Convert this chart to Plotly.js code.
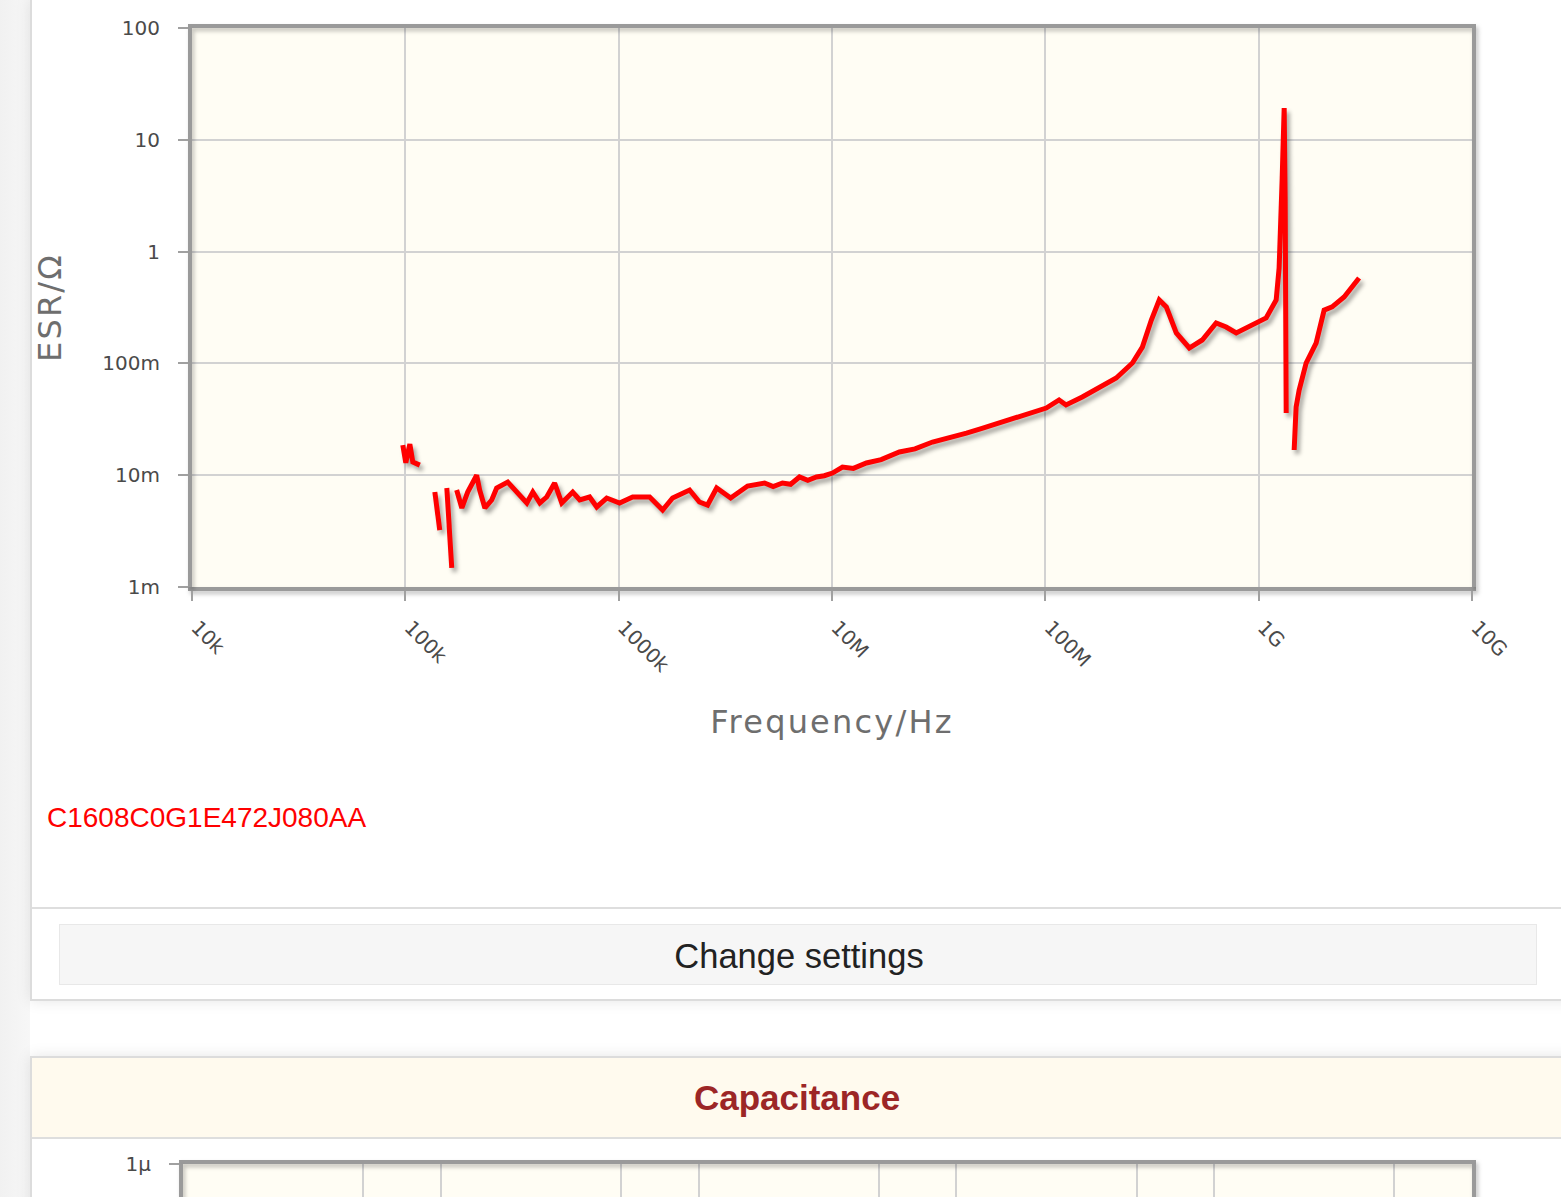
<!DOCTYPE html>
<html>
<head>
<meta charset="utf-8">
<script src="https://cdn.plot.ly/plotly-3.0.1.min.js"></script>
<style>
  html, body { margin:0; padding:0; background:#ffffff; width:1561px; height:1197px; overflow:hidden; font-family:"Liberation Sans", Arial, sans-serif; }
  .leftstrip { position:absolute; left:0; top:0; width:30px; height:1197px; background:linear-gradient(to right,#f1f1f1,#f7f7f7); }
  .card { position:absolute; left:30px; width:1570px; background:#fff; border:2px solid #dcdcdc; box-shadow:0 0 14px rgba(0,0,0,0.10); box-sizing:border-box; }
  #card1 { top:-2px; height:1003px; }
  #card2 { top:1056px; height:400px; }
  .sep { position:absolute; left:0; right:0; top:907px; height:2px; background:#dedede; }
  .btn { position:absolute; left:27px; top:924px; width:1478px; height:61px; background:#f6f6f6; border:1px solid #e8e8e8; box-sizing:border-box;
         font-size:34.5px; color:#222; line-height:62px; }
  .hdr { position:absolute; left:0; right:0; top:0; height:79px; background:#fffaee; border-bottom:2px solid #dedede;
         font-size:35px; font-weight:bold; color:#9c2626; line-height:80px; }
  .hdr span { position:absolute; left:0; width:1530px; text-align:center; }
  .btn span { position:absolute; left:0; width:1478px; text-align:center; }
  #chart { position:absolute; left:0; top:0; width:1561px; height:850px; }
  #chart2 { position:absolute; left:0; top:1136px; width:1561px; height:400px; }
  #chart g.scatterlayer { filter: drop-shadow(3px 4px 2px rgba(0,0,0,0.35)); }
  #chart path.xlines-above, #chart path.ylines-above, #chart2 path.xlines-above, #chart2 path.ylines-above { filter: drop-shadow(2px 3px 2px rgba(0,0,0,0.25)); }
  #chart .g-xtitle text, #chart .g-ytitle text { letter-spacing:2.2px; }
</style>
</head>
<body>
<div class="leftstrip"></div>
<div class="card" id="card1">
  <div class="sep"></div>
  <div class="btn"><span>Change settings</span></div>
</div>
<div class="card" id="card2">
  <div class="hdr"><span>Capacitance</span></div>
</div>
<div id="chart"></div>
<div id="chart2"></div>
<script>
// ---- data (frequency in Hz, ESR in ohm; null = gap) ----
const seriesName = "C1608C0G1E472J080AA";
const freqHz = [
  97.3e3, 100.5e3, 105e3, 108.4e3, 116.9e3, 127e3,
  137.5e3, 145e3, 151e3,
  156.5e3, 165e3, 170e3,
  174e3, 184e3, 196e3, 216e3, 223e3, 236e3, 254e3, 268e3, 302e3, 326e3,
  371e3, 396e3, 427e3, 460e3, 501e3, 541e3, 609e3, 657e3, 731e3, 789e3, 879e3,
  1.01e6, 1.163e6, 1.397e6, 1.607e6, 1.79e6, 2.15e6, 2.39e6, 2.61e6, 2.88e6, 3.35e6,
  4.02e6, 4.83e6, 5.3e6, 5.86e6, 6.4e6, 7.04e6, 7.7e6, 8.46e6, 9.2e6, 10.05e6, 11.2e6, 12.6e6, 14.5e6, 17.0e6, 20.7e6, 24.5e6, 29.6e6,
  35.0e6, 42.7e6, 50.5e6, 60.9e6, 72.0e6, 86.9e6, 101e6, 116e6, 125e6, 149e6, 179e6, 215e6, 256e6, 285e6,
  314e6, 342e6, 369e6, 411e6, 473e6, 544e6, 632e6, 704e6, 785e6, 903e6,
  1.084e9, 1.208e9, 1.247e9, 1.288e9, 1.317e9, 1.331e9, 1.346e9, 1.40e9,
  1.467e9, 1.498e9, 1.548e9, 1.669e9, 1.859e9, 2.027e9, 2.21e9, 2.515e9, 2.956e9
];
const esrOhm = [
  0.0186, 0.0129, 0.0190, 0.0131, 0.0123, null,
  0.00707, 0.00323, null,
  0.00768, 0.00148, null,
  0.00737, 0.00509, 0.00707, 0.0100, 0.00737, 0.00509, 0.0060, 0.00768, 0.00869, 0.00737,
  0.00564, 0.00707, 0.00564, 0.00638, 0.00852, 0.00564, 0.00707, 0.0060, 0.00638, 0.0052, 0.00625,
  0.00564, 0.00638, 0.00638, 0.00488, 0.00625, 0.00737, 0.00576, 0.00541, 0.00768, 0.00625,
  0.0080, 0.00852, 0.00790, 0.00852, 0.00830, 0.00964, 0.00900, 0.00964, 0.00990, 0.01046, 0.01184, 0.01150, 0.01286, 0.01380, 0.01612, 0.01720, 0.0198,
  0.0213, 0.0238, 0.0262, 0.0293, 0.0318, 0.0360, 0.0399, 0.0471, 0.0425, 0.0501, 0.0603, 0.0740, 0.1008, 0.140,
  0.2444, 0.369, 0.320, 0.187, 0.1373, 0.162, 0.230, 0.2117, 0.187, 0.2117,
  0.255, 0.369, 0.713, 4.37, 19.2, 2.89, 0.036, null,
  0.0168, 0.0407, 0.0578, 0.1008, 0.152, 0.300, 0.320, 0.393, 0.581
];
const xTickVals = [1e4, 1e5, 1e6, 1e7, 1e8, 1e9, 1e10];
const xTickText = ["10k", "100k", "1000k", "10M", "100M", "1G", "10G"];
const yTickVals = [1e-3, 1e-2, 1e-1, 1, 10, 100];
const yTickText = ["1m", "10m", "100m", "1", "10", "100"];
const xTitle = "Frequency/Hz";
const yTitle = "ESR/\u03A9";

// second (capacitance) chart, only its top edge is visible
const capXTickVals = [5e5, 1e6, 5e6, 1e7, 5e7, 1e8, 5e8, 1e9, 5e9];
const capYTickVals = [1e-6];
const capYTickText = ["1\u03BC"];

const tickFont = {family: "DejaVu Sans, Verdana, sans-serif", size: 20, color: "#4a4a4a"};
const titleFont = {family: "DejaVu Sans, Verdana, sans-serif", size: 32, color: "#6e6e6e"};

const trace = {
  x: freqHz, y: esrOhm, type: "scatter", mode: "lines", name: seriesName,
  connectgaps: false,
  line: {color: "#ff0000", width: 5}
};

const layout = {
  width: 1561, height: 850,
  margin: {l: 192, r: 89, t: 28, b: 263},
  paper_bgcolor: "rgba(0,0,0,0)",
  plot_bgcolor: "#fffdf4",
  showlegend: false,
  xaxis: {
    type: "log", range: [4, 10], tickvals: xTickVals, ticktext: xTickText,
    tickangle: 45, tickfont: tickFont, ticks: "outside", ticklen: 10, tickwidth: 2, tickcolor: "#a0a0a0",
    ticklabelstandoff: 7, ticklabelshift: 5,
    showgrid: true, gridcolor: "#d2d2d2", gridwidth: 2,
    showline: true, linecolor: "#9a9a9a", linewidth: 4, mirror: true, zeroline: false,
    automargin: false,
    title: {text: xTitle, font: titleFont, standoff: 36}
  },
  yaxis: {
    type: "log", range: [-3, 2], tickvals: yTickVals, ticktext: yTickText,
    tickfont: tickFont, ticks: "outside", ticklen: 10, tickwidth: 2, tickcolor: "#a0a0a0",
    ticklabelstandoff: 14,
    showgrid: true, gridcolor: "#d2d2d2", gridwidth: 2,
    showline: true, linecolor: "#9a9a9a", linewidth: 4, mirror: true, zeroline: false,
    automargin: false,
    title: {text: yTitle, font: titleFont, standoff: 32}
  },
  annotations: [{
    text: seriesName, xref: "paper", yref: "paper", x: -0.1148, y: -0.4130,
    xanchor: "left", yanchor: "middle", showarrow: false,
    font: {family: "Liberation Sans, Arial, sans-serif", size: 28, color: "#ff0000"}
  }]
};

Plotly.newPlot("chart", [trace], layout, {staticPlot: true, displayModeBar: false});

const layout2 = {
  width: 1561, height: 400,
  margin: {l: 183, r: 89, t: 28, b: 60},
  paper_bgcolor: "rgba(0,0,0,0)",
  plot_bgcolor: "#fffdf4",
  showlegend: false,
  xaxis: {
    type: "log", range: [5, 10], tickvals: capXTickVals, showticklabels: false,
    showgrid: true, gridcolor: "#d2d2d2", gridwidth: 2,
    showline: true, linecolor: "#9a9a9a", linewidth: 4, mirror: true, zeroline: false, automargin: false
  },
  yaxis: {
    type: "log", range: [-12, -6], tickvals: capYTickVals, ticktext: capYTickText,
    tickfont: tickFont, ticks: "outside", ticklen: 10, tickwidth: 2, tickcolor: "#a0a0a0",
    ticklabelstandoff: 14, showgrid: false,
    showline: true, linecolor: "#9a9a9a", linewidth: 4, mirror: true, zeroline: false, automargin: false
  }
};
Plotly.newPlot("chart2", [{x: [], y: [], type: "scatter", mode: "lines", name: "Capacitance"}], layout2, {staticPlot: true, displayModeBar: false});
</script>
</body>
</html>
